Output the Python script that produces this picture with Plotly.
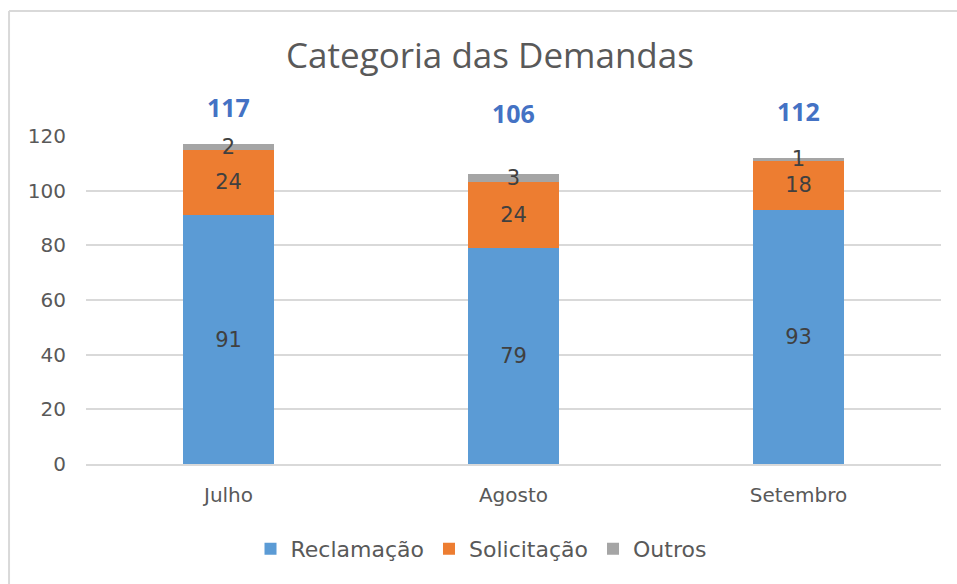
import plotly.graph_objects as go

months = ["Julho", "Agosto", "Setembro"]
reclamacao = [91, 79, 93]
solicitacao = [24, 24, 18]
outros = [2, 3, 1]
totals = [117, 106, 112]

colors = {"Reclamação": "#5B9BD5", "Solicitação": "#ED7D31", "Outros": "#A5A5A5"}
FONT = "DejaVu Sans"
TFONT = "Open Sans"
TXT = "#404040"
GRAY = "#595959"

fig = go.Figure()
for name, vals in [("Reclamação", reclamacao), ("Solicitação", solicitacao), ("Outros", outros)]:
    fig.add_trace(go.Bar(
        name=name, x=months, y=vals, marker=dict(color=colors[name], line=dict(width=0)),
        text=[str(v) for v in vals], textposition="inside", insidetextanchor="middle",
        textangle=0, constraintext="none",
        textfont=dict(family=FONT, size=21, color=TXT), width=0.316, cliponaxis=False,
    ))

# total label vertical offsets (pixels above bar top)
total_shift = [37, 61, 47]
for m, t, s in zip(months, totals, total_shift):
    fig.add_annotation(x=m, y=t, yref="y", text=f"<b>{t}</b>", showarrow=False,
                       yanchor="middle", yshift=s,
                       font=dict(family=TFONT, size=25, color="#4472C4"))

# chart frame (top and left edges visible)
fig.add_shape(type="line", xref="paper", yref="paper", x0=-0.09, x1=1.1, y0=1.381, y1=1.381,
              line=dict(color="#D9D9D9", width=2))
fig.add_shape(type="line", xref="paper", yref="paper", x0=-0.09, x1=-0.09, y0=-0.5, y1=1.381,
              line=dict(color="#D9D9D9", width=2))

fig.update_layout(
    barmode="stack",
    width=957, height=584,
    margin=dict(l=86, r=16, t=136, b=120),
    paper_bgcolor="white", plot_bgcolor="white",
    title=dict(text="Categoria das Demandas", x=0.512, xanchor="center", y=0.905, yanchor="middle",
               font=dict(family=TFONT, size=35, color=GRAY)),
    uniformtext=dict(minsize=21, mode="show"),
    showlegend=True,
    legend=dict(orientation="h", x=0.462, xanchor="center", y=-0.259, yanchor="middle",
                font=dict(family=FONT, size=22, color=GRAY), traceorder="normal",
                itemwidth=30),
    xaxis=dict(tickfont=dict(family=FONT, size=20, color=GRAY), showline=True,
               linecolor="#D9D9D9", linewidth=2, ticks="", showgrid=False,
               ticklabelstandoff=12),
    yaxis=dict(range=[0, 120], dtick=20, tickfont=dict(family=FONT, size=20, color=GRAY),
               showgrid=True, gridcolor="#D9D9D9", gridwidth=2, zeroline=False,
               showline=False, ticks="", ticklabelstandoff=19),
)

fig.write_html("out.html")
